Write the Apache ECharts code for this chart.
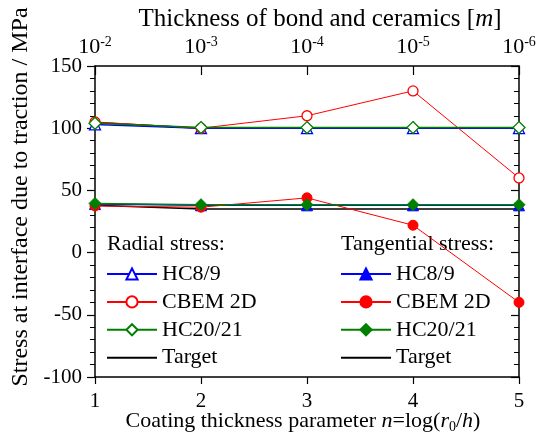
<!DOCTYPE html>
<html>
<head>
<meta charset="utf-8">
<script src="https://cdn.jsdelivr.net/npm/echarts@6/dist/echarts.min.js"></script>
<style>
  html, body { margin: 0; padding: 0; background: #fff; }
  #chart { width: 540px; height: 436px; }
</style>
</head>
<body>
<div id="chart"></div>
<script>
// Coating thickness parameter n
const nValues = [1, 2, 3, 4, 5];
// Top axis: thickness of bond and ceramics, 10^-2 ... 10^-6 m
const thicknessExp = ['-2', '-3', '-4', '-5', '-6'];

// Radial stress (MPa)
const radialHC89   = [103, 100, 100, 100, 100];
const radialCBEM   = [105, 100, 110, 130, 60];
const radialHC2021 = [104, 100.5, 100.5, 100.5, 100.5];
const radialTarget = [104.5, 100, 100, 100, 100];

// Tangential stress (MPa)
const tangHC89   = [39, 38, 38, 38, 38];
const tangCBEM   = [37.5, 36.5, 44, 22, -40];
const tangHC2021 = [39.5, 38.5, 38.5, 38.5, 38.5];
const tangTarget = [38, 35, 35, 35, 35];

const FONT = '"Liberation Serif", "Times New Roman", serif';
const FS = 21;
const BLUE = '#0000ff', RED = '#ff0000', GREEN = '#008000', BLACK = '#000000';

function pairs(vals) { return nValues.map((n, i) => [n, vals[i]]); }

function series(name, vals, color, symbol, filled, lw) {
  return {
    name: name,
    type: 'line',
    data: pairs(vals),
    symbol: symbol,
    symbolSize: symbol === 'triangle' ? 11 : (symbol === 'diamond' ? 12 : 10),
    showSymbol: symbol !== 'none',
    lineStyle: { color: color, width: lw },
    itemStyle: filled
      ? { color: color, borderColor: color, borderWidth: 1 }
      : { color: '#ffffff', borderColor: color, borderWidth: 1.3 },
    emphasis: { disabled: true },
    animation: false,
    xAxisIndex: 0, yAxisIndex: 0
  };
}

const chart = echarts.init(document.getElementById('chart'), null, { renderer: 'canvas' });

const stripTag = name => name.replace(/ \[[rt]\]$/, '');
// Target rows show only a plain line in the legend
const lineOnly = name => ({ name: name, itemStyle: { opacity: 0, color: 'rgba(0,0,0,0)', borderColor: 'rgba(0,0,0,0)' } });

const legendBase = {
  orient: 'vertical',
  padding: 0,
  itemWidth: 50,
  itemHeight: 14,
  itemGap: 5.9,
  selectedMode: false,
  textStyle: { fontFamily: FONT, fontSize: 22, color: '#000', lineHeight: 21 },
  formatter: stripTag
};

const titleRich = size => ({
  t: { fontFamily: FONT, fontSize: size, color: '#000' },
  i: { fontFamily: FONT, fontSize: size, fontStyle: 'italic', color: '#000' },
  s: { fontFamily: FONT, fontSize: 14, color: '#000', padding: [12, 0, 0, 0] }
});

chart.setOption({
  backgroundColor: '#ffffff',
  animation: false,
  textStyle: { fontFamily: FONT },
  grid: { left: 95, right: 21, top: 66, bottom: 59, containLabel: false, outerBoundsMode: 'none' },
  legend: [
    Object.assign({}, legendBase, {
      left: 106, top: 263,
      data: ['HC8/9 [r]', 'CBEM 2D [r]', 'HC20/21 [r]', lineOnly('Target [r]')]
    }),
    Object.assign({}, legendBase, {
      left: 340, top: 263,
      data: ['HC8/9 [t]', 'CBEM 2D [t]', 'HC20/21 [t]', lineOnly('Target [t]')]
    })
  ],
  graphic: [
    { type: 'text', left: 107, top: 233,
      style: { text: 'Radial stress:', font: '22px ' + FONT, fill: '#000' } },
    { type: 'text', left: 341, top: 233,
      style: { text: 'Tangential stress:', font: '22px ' + FONT, fill: '#000' } },
    { type: 'text', x: 21, y: 197, rotation: Math.PI / 2,
      style: { text: 'Stress at interface due to traction / MPa', font: '24px ' + FONT,
               fill: '#000', align: 'center', verticalAlign: 'middle' } },
    // top axis title
    { type: 'text', x: 320, y: 19,
      style: { text: '{t|Thickness of bond and ceramics [}{i|m}{t|]}', rich: titleRich(25),
               align: 'center', verticalAlign: 'middle' } },
    // bottom axis title
    { type: 'text', x: 303, y: 421,
      style: { text: '{t|Coating thickness parameter }{i|n}{t|=log(}{i|r}{s|0}{t|/}{i|h}{t|)}',
               rich: titleRich(22), align: 'center', verticalAlign: 'middle' } }
  ],
  xAxis: [
    {
      type: 'value', position: 'bottom', min: 1, max: 5, interval: 1,
      axisLine: { show: true, onZero: false, lineStyle: { color: BLACK, width: 1.5 } },
      axisTick: { show: true, inside: false, length: 7, lineStyle: { color: BLACK, width: 1.2 } },
      axisLabel: { fontFamily: FONT, fontSize: FS, color: '#000', margin: 14 },
      splitLine: { show: false }
    },
    {
      type: 'value', position: 'top', min: 1, max: 5, interval: 1,
      axisLine: { show: true, onZero: false, lineStyle: { color: BLACK, width: 1.5 } },
      axisTick: { show: true, inside: true, length: 9, lineStyle: { color: BLACK, width: 1.2 } },
      axisLabel: {
        margin: 6,
        formatter: v => '{b|10}{p|' + thicknessExp[v - 1] + '}',
        rich: {
          b: { fontFamily: FONT, fontSize: 22, color: '#000' },
          p: { fontFamily: FONT, fontSize: 14, color: '#000', padding: [0, 0, 11, 0] }
        }
      },
      splitLine: { show: false }
    }
  ],
  yAxis: [
    {
      type: 'value', position: 'left', min: -100, max: 150, interval: 50,
      axisLine: { show: true, onZero: false, lineStyle: { color: BLACK, width: 1.5 } },
      axisTick: { show: true, inside: false, length: 8, lineStyle: { color: BLACK, width: 1.2 } },
      minorTick: { show: true, splitNumber: 5, length: 5, lineStyle: { color: BLACK, width: 1 } },
      axisLabel: { fontFamily: FONT, fontSize: FS, color: '#000', margin: 13 },
      splitLine: { show: false },
      minorSplitLine: { show: false }
    },
    {
      type: 'value', position: 'right', min: -100, max: 150, interval: 50,
      axisLine: { show: true, onZero: false, lineStyle: { color: BLACK, width: 1.5 } },
      axisTick: { show: true, inside: true, length: 8, lineStyle: { color: BLACK, width: 1.2 } },
      minorTick: { show: true, splitNumber: 5, length: 5, lineStyle: { color: BLACK, width: 1 } },
      axisLabel: { show: false },
      splitLine: { show: false },
      minorSplitLine: { show: false }
    }
  ],
  series: [
    series('Target [r]', radialTarget, BLACK, 'none', true, 1.5),
    series('Target [t]', tangTarget, BLACK, 'none', true, 1.5),
    series('HC8/9 [r]', radialHC89, BLUE, 'triangle', false, 1.5),
    series('HC8/9 [t]', tangHC89, BLUE, 'triangle', true, 1.5),
    series('CBEM 2D [r]', radialCBEM, RED, 'circle', false, 1),
    series('CBEM 2D [t]', tangCBEM, RED, 'circle', true, 1),
    series('HC20/21 [r]', radialHC2021, GREEN, 'diamond', false, 1.5),
    series('HC20/21 [t]', tangHC2021, GREEN, 'diamond', true, 1.5)
  ]
});
</script>
</body>
</html>
